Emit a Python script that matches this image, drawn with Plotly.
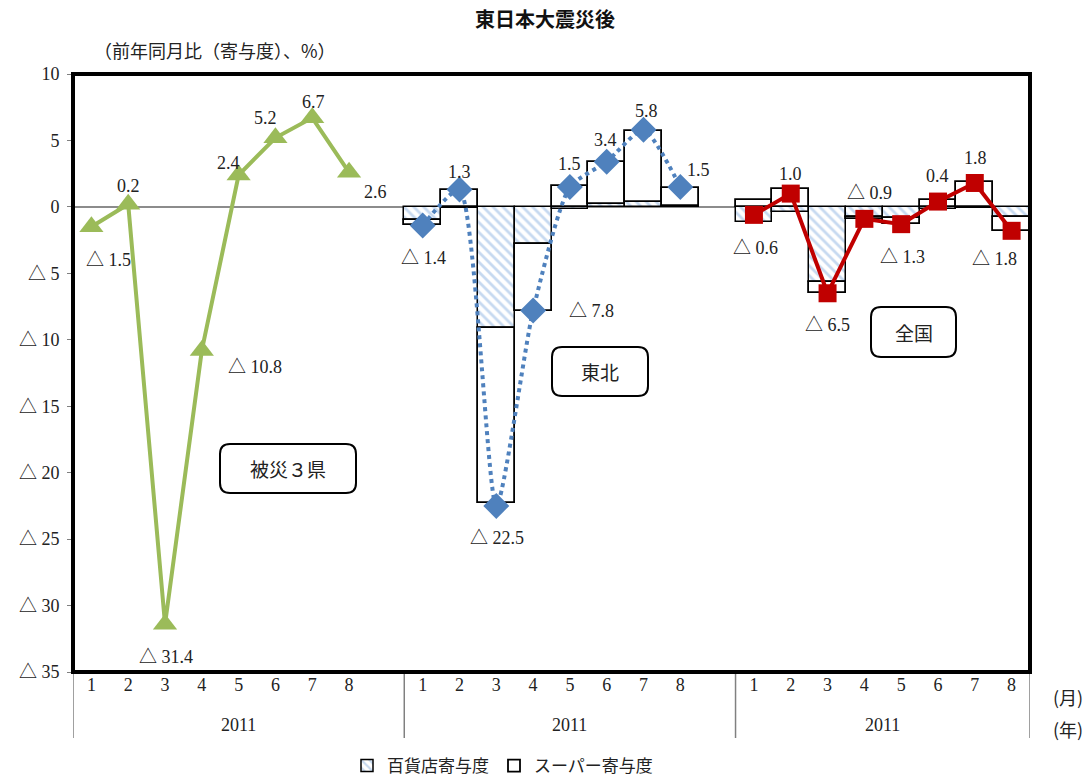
import plotly.graph_objects as go

# ---------------- data ----------------
months = [1, 2, 3, 4, 5, 6, 7, 8]
year_label = "2011"
regions = ["被災３県", "東北", "全国"]

hisai_total = [-1.5, 0.2, -31.4, -10.8, 2.4, 5.2, 6.7, 2.6]
tohoku_total = [-1.4, 1.3, -22.5, -7.8, 1.5, 3.4, 5.8, 1.5]
zenkoku_total = [-0.6, 1.0, -6.5, -0.9, -1.3, 0.4, 1.8, -1.8]

tohoku_dept = [-0.95, -0.05, -9.1, -2.8, -0.15, 0.25, 0.35, 0.05]
tohoku_super = [-0.45, 1.3, -13.2, -5.0, 1.6, 3.1, 5.35, 1.4]
zenkoku_dept = [-1.1, -0.35, -5.65, -0.75, -0.8, -0.15, -0.1, -0.75]
zenkoku_super = [0.5, 1.35, -0.8, -0.15, -0.5, 0.5, 1.9, -1.05]

y_ticks = [10, 5, 0, -5, -10, -15, -20, -25, -30, -35]

# ---------------- layout helpers ----------------
W, H = 1091, 778
PLOT_L, PLOT_R, PLOT_T, PLOT_B = 73, 1030, 74, 672
PW, PH = PLOT_R - PLOT_L, PLOT_B - PLOT_T
SLOTS_PER_GROUP = 9


def xpos(group):
    return [group * SLOTS_PER_GROUP + (m - 1) for m in months]


def fmt(v):
    return ("△ " if v < 0 else "") + f"{abs(v):.1f}"


def pxp(x):
    return (x - PLOT_L) / PW


def pyp(y):
    return (PLOT_B - y) / PH


FONT = "Liberation Serif, Noto Sans CJK JP, DejaVu Sans"
JFONT = "Noto Sans CJK JP, Liberation Serif"
TXT = "#222222"

fig = go.Figure()

# stacked bars (Tohoku + nationwide)
bx = xpos(1) + xpos(2)
fig.add_trace(go.Bar(
    x=bx, y=tohoku_dept + zenkoku_dept, name="百貨店寄与度",
    width=1.0,
    marker=dict(color="white", line=dict(color="black", width=1.5),
                pattern=dict(shape="\\", fgcolor="#8DB3E2", bgcolor="white",
                             size=7, solidity=0.4)),
    hoverinfo="skip"))
fig.add_trace(go.Bar(
    x=bx, y=tohoku_super + zenkoku_super, name="スーパー寄与度",
    width=1.0,
    marker=dict(color="white", line=dict(color="black", width=1.8)),
    hoverinfo="skip"))

# lines
fig.add_trace(go.Scatter(
    x=xpos(0), y=hisai_total, mode="lines+markers", showlegend=False,
    line=dict(color="#9BBB59", width=4),
    marker=dict(symbol="triangle-up", size=21, color="#9BBB59")))
fig.add_trace(go.Scatter(
    x=xpos(1), y=tohoku_total, mode="lines+markers", showlegend=False,
    line=dict(color="#4F81BD", width=4, dash="dot", shape="spline", smoothing=0.6),
    marker=dict(symbol="diamond", size=20, color="#4F81BD")))
fig.add_trace(go.Scatter(
    x=xpos(2), y=zenkoku_total, mode="lines+markers", showlegend=False,
    line=dict(color="#C00000", width=4),
    marker=dict(symbol="square", size=18, color="#C00000")))

# data labels (pixel offsets from each point)
label_offsets = [
    [(17, 33), (0, -18), (1, 33), (53, 17), (-10, -12), (-10, -20), (1, -16), (26, 20)],
    [(1, 33), (0, -18), (1, 32), (58, 0), (0, -23), (-1, -22), (3, -19), (18, -17)],
    [(2, 33), (0, -20), (0, 32), (5, -26), (1, 33), (0, -26), (1, -25), (-17, 28)],
]
annotations = []
for g, series in enumerate([hisai_total, tohoku_total, zenkoku_total]):
    for xv, yv, (dx, dy) in zip(xpos(g), series, label_offsets[g]):
        annotations.append(dict(x=xv, y=yv, xref="x", yref="y", text=fmt(yv),
                                showarrow=False, xshift=dx, yshift=-dy,
                                xanchor="center", yanchor="middle",
                                font=dict(size=18, color=TXT, family=FONT)))

# year labels under each group
for g in range(3):
    xs = xpos(g)
    annotations.append(dict(x=(xs[0] + xs[-1]) / 2 + (0.5 if g < 2 else 0), y=pyp(725),
                            xref="x", yref="paper", text=year_label, showarrow=False,
                            xanchor="center", yanchor="middle",
                            font=dict(size=18, color=TXT, family=FONT)))

annotations += [
    dict(x=pxp(1068), y=pyp(697), xref="paper", yref="paper", xanchor="center",
         yanchor="middle", text="(月)", showarrow=False,
         font=dict(size=18, color=TXT, family=JFONT)),
    dict(x=pxp(1068), y=pyp(729), xref="paper", yref="paper", xanchor="center",
         yanchor="middle", text="(年)", showarrow=False,
         font=dict(size=18, color=TXT, family=JFONT)),
    dict(x=pxp(545), y=pyp(18), xref="paper", yref="paper", xanchor="center",
         yanchor="middle", text="<b>東日本大震災後</b>", showarrow=False,
         font=dict(size=20, color="#111111", family=JFONT)),
    dict(x=pxp(92), y=pyp(50), xref="paper", yref="paper", xanchor="left",
         yanchor="middle", text="（前年同月比（寄与度）、%）", showarrow=False,
         font=dict(size=18, color=TXT, family=JFONT)),
]

# region boxes
shapes = []
boxes = [(220, 444, 356, 493), (552, 347, 648, 396), (871, 307, 956, 357)]


def rrect_path(x0, y0, x1, y1, r=10):
    return (f"M {pxp(x0 + r)},{pyp(y0)} L {pxp(x1 - r)},{pyp(y0)} "
            f"Q {pxp(x1)},{pyp(y0)} {pxp(x1)},{pyp(y0 + r)} "
            f"L {pxp(x1)},{pyp(y1 - r)} Q {pxp(x1)},{pyp(y1)} {pxp(x1 - r)},{pyp(y1)} "
            f"L {pxp(x0 + r)},{pyp(y1)} Q {pxp(x0)},{pyp(y1)} {pxp(x0)},{pyp(y1 - r)} "
            f"L {pxp(x0)},{pyp(y0 + r)} Q {pxp(x0)},{pyp(y0)} {pxp(x0 + r)},{pyp(y0)} Z")


for (x0, y0, x1, y1), name in zip(boxes, regions):
    shapes.append(dict(type="path", xref="paper", yref="paper",
                       path=rrect_path(x0, y0, x1, y1), fillcolor="white",
                       line=dict(color="black", width=2)))
    annotations.append(dict(x=pxp((x0 + x1) / 2), y=pyp((y0 + y1) / 2),
                            xref="paper", yref="paper", text=name, showarrow=False,
                            xanchor="center", yanchor="middle",
                            font=dict(size=19, color=TXT, family=JFONT)))

# group dividers below axis
for xd in [-0.5, 8.5, 17.5, 25.5]:
    shapes.append(dict(type="line", xref="x", yref="paper", x0=xd, x1=xd,
                       y0=0, y1=pyp(738), line=dict(color="#808080", width=1.5)))

# plot border
shapes.append(dict(type="rect", xref="paper", yref="paper", x0=0, x1=1, y0=0, y1=1,
                   line=dict(color="black", width=4), layer="above"))

tickx = xpos(0) + xpos(1) + xpos(2)
fig.update_layout(
    width=W, height=H,
    margin=dict(l=PLOT_L, r=W - PLOT_R, t=PLOT_T, b=H - PLOT_B, autoexpand=False),
    paper_bgcolor="white", plot_bgcolor="white",
    barmode="relative", bargap=0,
    font=dict(family=FONT, size=18, color=TXT),
    xaxis=dict(range=[-0.5, 25.5], tickvals=tickx, ticktext=[str(m) for m in months] * 3,
               showgrid=False, zeroline=False, ticks="", showline=False,
               automargin=False, tickfont=dict(size=18, family=FONT, color=TXT)),
    yaxis=dict(range=[-35, 10], tickvals=y_ticks,
               ticktext=[fmt(v).replace(".0", "") for v in y_ticks],
               showgrid=False, zeroline=True, zerolinecolor="#8C8C8C", zerolinewidth=2,
               ticks="outside", ticklen=5, tickcolor="#808080", showline=True,
               linecolor="#808080", linewidth=1, automargin=False, ticklabelstandoff=4,
               tickfont=dict(size=18, family=FONT, color=TXT)),
    legend=dict(orientation="h", x=pxp(347), xanchor="left",
                y=pyp(766), yanchor="middle",
                font=dict(size=17, family=JFONT, color=TXT), traceorder="normal",
                itemwidth=30, tracegroupgap=0),
    annotations=annotations, shapes=shapes,
)

fig.write_html("out.html")
